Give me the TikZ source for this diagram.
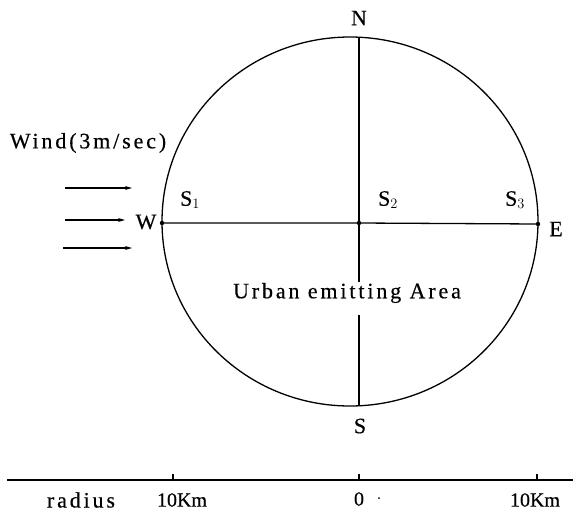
\documentclass[tikz,border=0pt]{standalone}
\usepackage{fontspec}
\setmainfont[FakeBold=0.4]{Liberation Serif}
\newfontfamily\spacedfont[LetterSpace=13,FakeBold=0.4]{Liberation Serif}
\usetikzlibrary{arrows.meta}
\begin{document}
\begin{tikzpicture}[x=1pt,y=-1pt,
  lbl/.style={inner sep=0pt,font=\fontsize{22}{26}\selectfont},
  numlbl/.style={inner sep=0pt,font=\fontsize{20}{24}\selectfont},
  slbl/.style={inner sep=0pt,font=\fontsize{22}{26}\selectfont\spacedfont},
  outline/.style={line width=1.3pt},
  windarrow/.style={line width=1.3pt,-{Stealth[length=7pt,width=4pt]}},
  dotmark/.style={fill=black}]
\useasboundingbox (0,0) rectangle (573,512);
% circle
\draw[outline] (350,221.5) ellipse [x radius=188pt, y radius=184.5pt];
\coordinate (Np) at (359,37.2);
\coordinate (g1) at (359,282);
\coordinate (g2) at (359,315);
\coordinate (Sp) at (359,405.8);
\coordinate (Wp) at (162,223);
\coordinate (Cp) at (359,223);
\coordinate (Ep) at (538,224);
\draw[outline] (Np) -- (g1);
\draw[outline] (g2) -- (Sp);
\draw[outline] (Wp) -- (Cp) -- (Ep);
\fill[dotmark] (Wp) circle (2.2pt);
\fill[dotmark] (Cp) circle (2.2pt);
\fill[dotmark] (Ep) circle (2.2pt);
% compass labels
\node[lbl] (N) at (359,18) {N};
\node[lbl] (S) at (360,426) {S};
\node[lbl] (W) at (146,222) {W};
\node[lbl] (E) at (556,229) {E};
\node[lbl] (s1) at (190,200) {S$_1$};
\node[lbl] (s2) at (388,200) {S$_2$};
\node[lbl] (s3) at (515,200) {S$_3$};
\node[slbl] (urban) at (347,293) {Urban emitting Area};
% wind
\node[slbl] (wind) at (88,143) {Wind(3m/sec)};
\coordinate (a1s) at (65,188); \coordinate (a1e) at (132,188);
\coordinate (a2s) at (65,220); \coordinate (a2e) at (125,220);
\coordinate (a3s) at (63,248); \coordinate (a3e) at (132,248);
\draw[windarrow] (a1s) -- (a1e);
\draw[windarrow] (a2s) -- (a2e);
\draw[windarrow] (a3s) -- (a3e);
% scale
\coordinate (l0) at (7,480); \coordinate (l1) at (573,480);
\coordinate (t1) at (173,480); \coordinate (t2) at (359,480); \coordinate (t3) at (537,480);
\draw[outline] (l0) -- (l1);
\draw[outline] (t1) -- ++(0,-6);
\draw[outline] (t2) -- ++(0,-6);
\draw[outline] (t3) -- ++(0,-6);
\node[slbl] (radius) at (81,500) {radius};
\node[numlbl] (k1) at (182,500) {10Km};
\node[numlbl] (zero) at (359,499) {0};
\fill[dotmark] (379,498) circle (1pt);
\node[numlbl] (k2) at (535,500) {10Km};
\end{tikzpicture}
\end{document}
